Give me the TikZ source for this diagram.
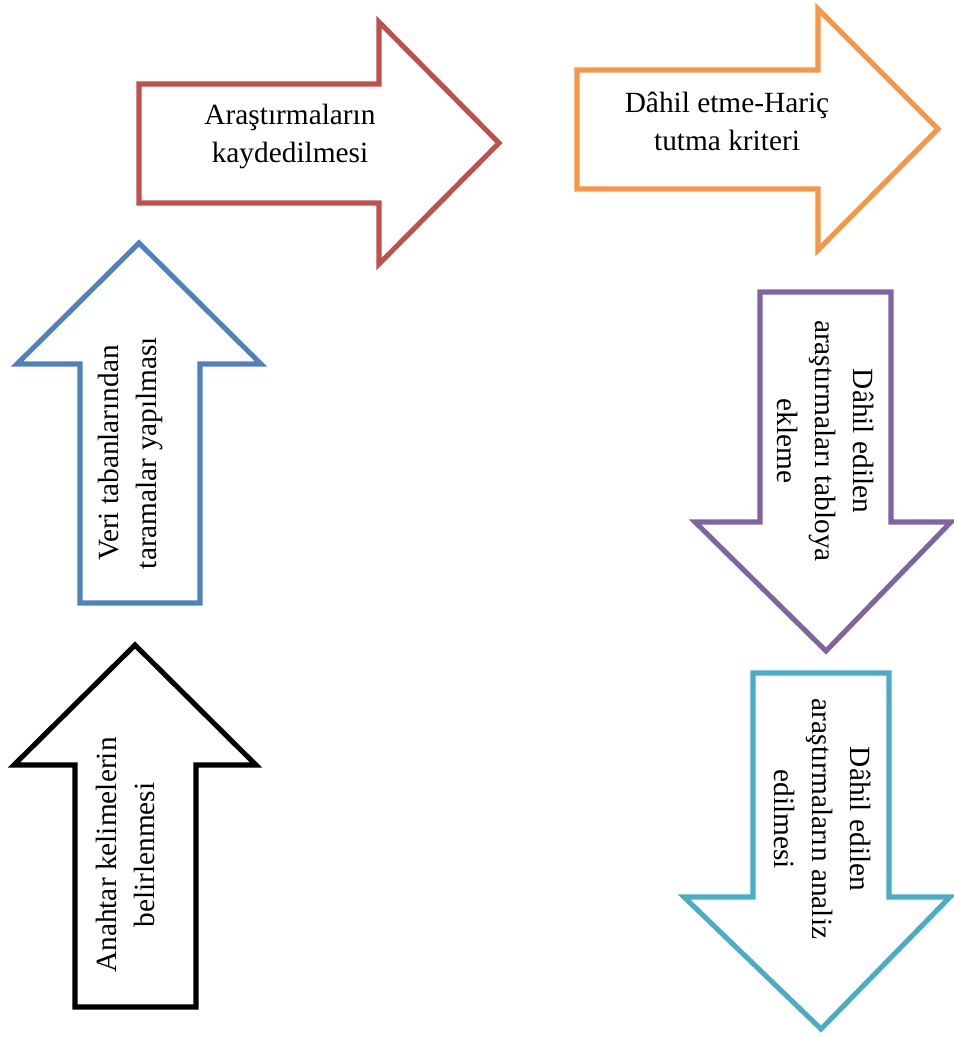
\documentclass[tikz,border=0pt]{standalone}
\usepackage{fontspec}
\setmainfont{Liberation Serif}
\definecolor{cblack}{HTML}{000000}
\definecolor{cblue}{HTML}{4F81BD}
\definecolor{cred}{HTML}{C0504D}
\definecolor{corange}{HTML}{F79646}
\definecolor{cpurple}{HTML}{8064A2}
\definecolor{cteal}{HTML}{4BACC6}
\begin{document}
\begin{tikzpicture}[x=0.75pt,y=-0.75pt,
  arrowshape/.style={line width=3.8pt,line join=miter,fill=white},
  lbl/.style={align=center,font=\fontsize{22}{28.5}\selectfont,inner sep=0pt}]
\useasboundingbox (0,0) rectangle (953,1037);
% black up arrow
\draw[arrowshape,draw=cblack] (75,1007) -- (75,765) -- (14,765) -- (135,645) -- (256,765) -- (196,765) -- (196,1007) -- cycle;
\node[lbl,rotate=90] (t1) at (125,855) {Anahtar kelimelerin\\belirlenmesi};
% blue up arrow
\draw[arrowshape,draw=cblue] (80,603) -- (80,364) -- (17,364) -- (139,243) -- (261,364) -- (200,364) -- (200,603) -- cycle;
\node[lbl,rotate=90] (t2) at (130,453) {Veri tabanlarından\\taramalar yapılması};
% red right arrow
\draw[arrowshape,draw=cred] (139,84) -- (379,84) -- (379,22) -- (499,143) -- (379,264) -- (379,203) -- (139,203) -- cycle;
\node[lbl] (t3) at (290,136) {Araştırmaların\\kaydedilmesi};
% orange right arrow
\draw[arrowshape,draw=corange] (577,70) -- (818,70) -- (818,9) -- (938,129) -- (818,250) -- (818,189) -- (577,189) -- cycle;
\node[lbl] (t4) at (727,121) {Dâhil etme-Hariç\\tutma kriteri};
% purple down arrow
\draw[arrowshape,draw=cpurple] (760,292) -- (891,292) -- (891,522) -- (951,522) -- (826,651) -- (695,522) -- (760,522) -- cycle;
\node[lbl,rotate=-90] (t5) at (826,441) {Dâhil edilen\\araştırmaları tabloya\\ekleme};
% teal down arrow
\draw[arrowshape,draw=cteal] (753,673) -- (889,673) -- (889,897) -- (950,897) -- (821,1029) -- (684,897) -- (753,897) -- cycle;
\node[lbl,rotate=-90] (t6) at (823,819) {Dâhil edilen\\araştırmaların analiz\\edilmesi};
\end{tikzpicture}
\end{document}
